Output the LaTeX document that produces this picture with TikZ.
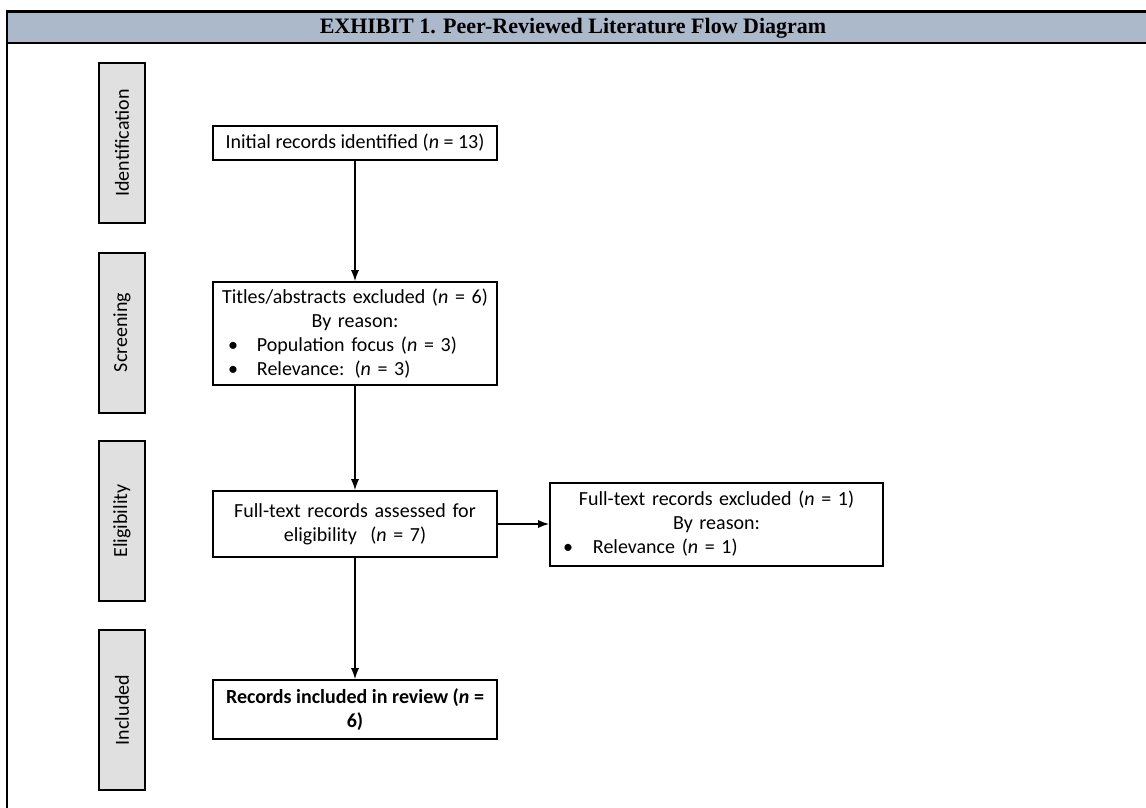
\documentclass[tikz,border=0pt]{standalone}
\usepackage{fontspec}
\setmainfont{Carlito}
\newfontfamily\exhibitfont{Liberation Serif}
\definecolor{headblue}{RGB}{172,185,202}
\definecolor{stagegray}{RGB}{224,224,224}
\newcommand{\bulletline}[2][14.5pt]{\makebox[\linewidth][l]{\hspace*{3.5pt}\makebox[#1][l]{\textbullet}#2}}

\begin{document}
\begin{tikzpicture}[x=0.5pt,y=-0.5pt,
  stage/.style={draw=black, line width=1pt, fill=stagegray, rotate=90,
    minimum width=80pt, minimum height=23pt, inner sep=0pt,
    font=\fontsize{10}{12}\selectfont},
  flowbox/.style={draw=black, line width=1pt, fill=white, minimum width=142pt,
    inner xsep=4pt, inner ysep=0pt, align=center,
    font=\fontsize{10}{12}\selectfont},
  flow/.style={line width=0.9pt, -latex}]
\useasboundingbox (0,0) rectangle (1146,808);
% header band and frame
\fill [headblue] (7,12) rectangle (1146,43);
\draw [line width=1.5pt] (6,12) -- (1146,12);
\draw [line width=0.6pt] (7,43) -- (1146,43);
\draw [line width=1.2pt] (7,43) -- (70,43);
\draw [line width=1.2pt] (1095,43) -- (1146,43);
\draw [line width=1pt] (7,11.5) -- (7,808);
\node (title) at (573,28) {\exhibitfont\bfseries\fontsize{11}{13}\selectfont EXHIBIT 1. Peer-Reviewed Literature Flow Diagram};
% stages
\node [stage] (ident) at (122,143) {Identification};
\node [stage] (screen) at (122,332.5) {Screening};
\node [stage] (elig) at (122,521) {Eligibility};
\node [stage] (incl) at (122,710) {Included};
% records
\node [flowbox, minimum height=17pt] (initial) at (355,143) {Initial records identified (\textit{n} = 13)};
\node [flowbox, minimum height=51.5pt, text width=134pt] (titles) at (355,333.5) {Titles/abstracts excluded (\textit{n} = 6)\\ By reason:\\ \bulletline{Population focus (\textit{n} = 3)}\\ \bulletline{Relevance: (\textit{n} = 3)}};
\node [flowbox, minimum height=33pt, text width=128pt] (fulltext) at (355,524) {Full-text records assessed for\\ eligibility\ \ (\textit{n} = 7)};
\node [flowbox, minimum width=166.5pt, minimum height=41.5pt, inner xsep=3pt, text width=160.5pt] (excluded) at (716.5,524) {Full-text records excluded (\textit{n} = 1)\\ By reason:\\ \bulletline[15pt]{Relevance (\textit{n} = 1)}};
\node [flowbox, minimum height=29.5pt, font=\fontsize{10}{12}\selectfont\bfseries] (included) at (355,709.5) {Records included in review (\textit{n} =\\ 6)};
% connectors
\draw [flow] (initial) -- (titles);
\draw [flow] (titles) -- (fulltext);
\draw [flow] (fulltext) -- (excluded);
\draw [flow] (fulltext) -- (included);
\end{tikzpicture}
\end{document}
